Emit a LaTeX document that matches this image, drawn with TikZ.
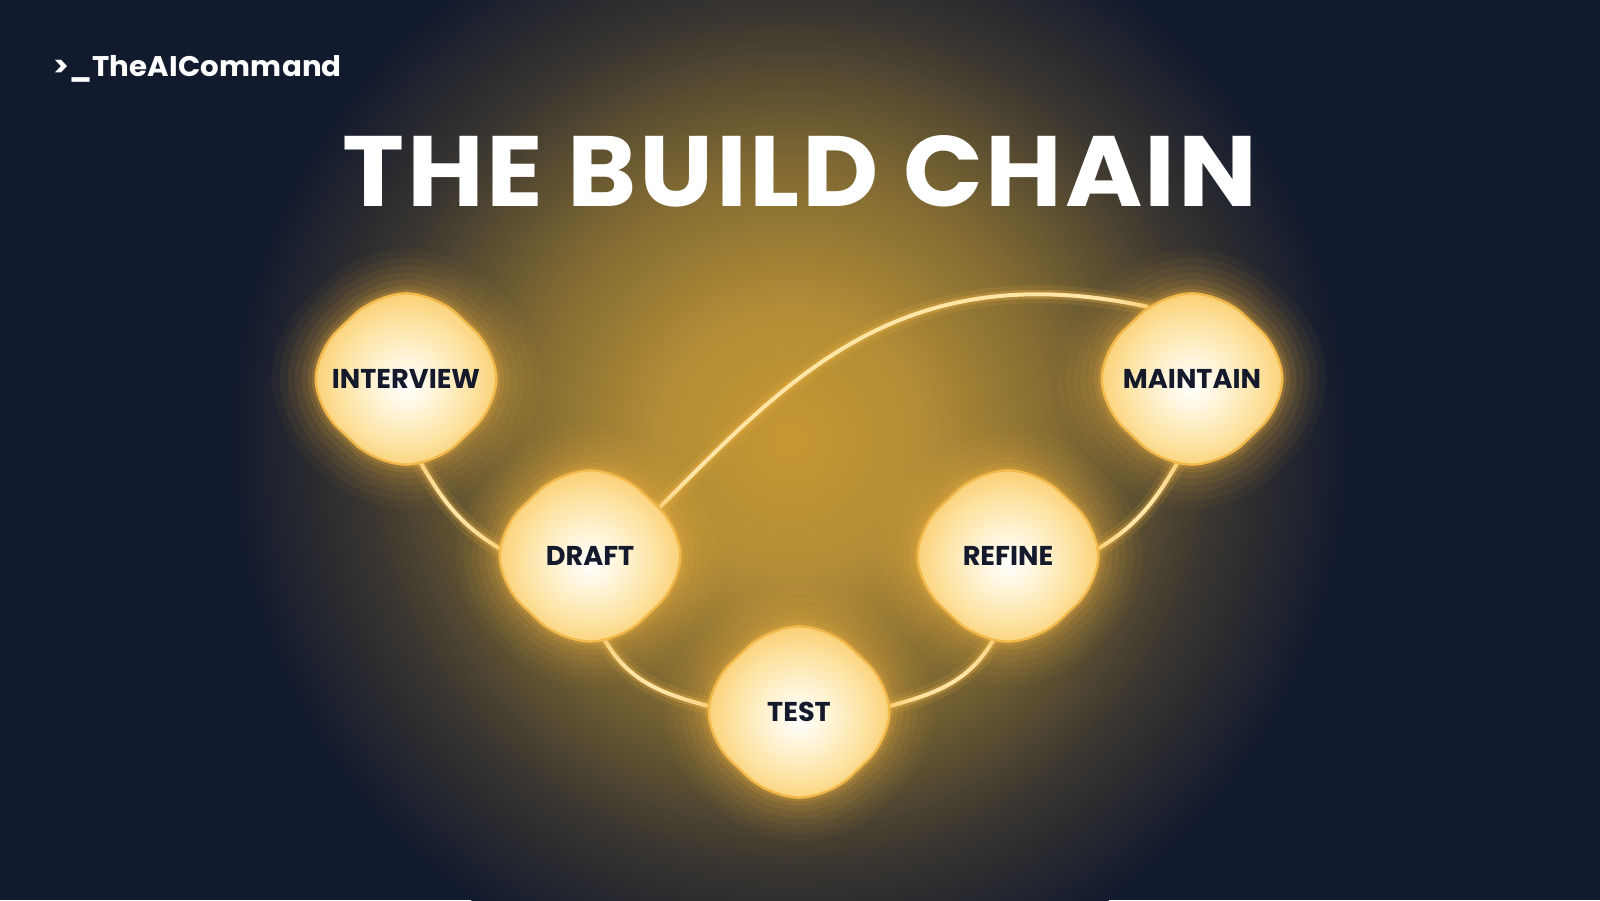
\documentclass[tikz,border=0pt]{standalone}
\usepackage{fontspec}
\newfontfamily\pop{Poppins}
\newfontfamily\poptitle{Poppins}[FakeStretch=1.05, LetterSpace=2.5]
\newfontfamily\poplogo{Poppins}[FakeStretch=1.03, LetterSpace=0.6]
\usetikzlibrary{calc}
\pgfdeclarelayer{bg}\pgfdeclarelayer{lines}\pgfdeclarelayer{shapes}
\pgfsetlayers{bg,lines,shapes,main}
\definecolor{bgc}{RGB}{18,26,46}
\definecolor{gA}{RGB}{198,152,50}
\definecolor{gB}{RGB}{178,140,54}
\definecolor{gC}{RGB}{126,104,50}
\definecolor{gD}{RGB}{58,54,48}
\definecolor{glowc}{RGB}{250,186,70}
\definecolor{rimc}{RGB}{242,184,74}
\definecolor{nA}{RGB}{255,246,222}
\definecolor{nB}{RGB}{253,228,164}
\definecolor{nC}{RGB}{251,210,122}
\definecolor{linec}{RGB}{255,230,166}
\definecolor{navyc}{RGB}{20,26,44}
\pgfdeclareradialshading{bgglow}{\pgfpoint{0bp}{0bp}}{color(0bp)=(gA); color(6bp)=(gB); color(12.5bp)=(gC); color(19bp)=(gD); color(25bp)=(bgc); color(50bp)=(bgc)}
\pgfdeclareradialshading{nodefill}{\pgfpoint{0bp}{-2bp}}{color(0bp)=(white); color(7bp)=(nA); color(18bp)=(nB); color(25bp)=(nC); color(50bp)=(nC)}
% rounded blob outline (rounded diamond / octagon), centred on (0,0), 1 unit = 1 px
\newcommand\octpath{(90.35,0) .. controls (90.35,15.30) and (80.55,37.10) .. (68.57,48.45) -- (51.14,64.96) .. controls (39.16,76.31) and (16.15,85.60) .. (0,85.60) .. controls (-16.15,85.60) and (-39.16,76.31) .. (-51.14,64.96) -- (-68.57,48.45) .. controls (-80.55,37.10) and (-90.35,15.30) .. (-90.35,0) .. controls (-90.35,-15.30) and (-80.55,-37.10) .. (-68.57,-48.45) -- (-51.14,-64.96) .. controls (-39.16,-76.31) and (-16.15,-85.60) .. (0,-85.60) .. controls (16.15,-85.60) and (39.16,-76.31) .. (51.14,-64.96) -- (68.57,-48.45) .. controls (80.55,-37.10) and (90.35,-15.30) .. (90.35,0) -- cycle}
\tikzset{blobcorner/.style={line join=round}}
\newcommand\blobat[1]{%
  \foreach \w/\o in {44/0.04,36/0.05,28/0.06,21/0.07,14/0.09,8/0.12,4/0.18}{%
    \draw[shift={(#1)}, blobcorner, line width=\w pt, draw=glowc, opacity=\o] \octpath;}
  \shade[shift={(#1)}, blobcorner, shading=nodefill] \octpath;
  \draw[shift={(#1)}, blobcorner, line width=1.2pt, draw=rimc] \octpath;
}
\tikzset{
  lbl/.style={circle, minimum size=85pt, inner sep=0pt, text=navyc, font=\pop\bfseries\fontsize{13.6}{16}\selectfont},
  conn/.style={line width=2pt, draw=linec, line cap=round},
  connglow/.style={line width=9pt, draw=glowc, opacity=0.12, line cap=round},
  connglowb/.style={line width=4.5pt, draw=glowc, opacity=0.28, line cap=round}
}
\begin{document}
\begin{tikzpicture}[x=0.5pt,y=0.5pt]
\useasboundingbox (0,0) rectangle (1600,900);
\begin{pgfonlayer}{bg}
  \fill[bgc] (0,0) rectangle (1600,900);
  \shade[shading=bgglow] (790,460) circle (560);
\end{pgfonlayer}
% labels
\node[anchor=base west, inner sep=0pt, text=white, font=\poplogo\bfseries\fontsize{14.2}{16}\selectfont] (logo) at (53,823) {>\_TheAICommand};
\node[anchor=base, inner sep=0pt, text=white, font=\poptitle\bfseries\fontsize{50}{58}\selectfont] (title) at (800,693) {THE BUILD CHAIN};
% nodes
\node[lbl] (int) at (406,521) {INTERVIEW};
\node[lbl] (dra) at (590,344) {DRAFT};
\node[lbl] (tst) at (799,188) {TEST};
\node[lbl] (ref) at (1008,344) {REFINE};
\node[lbl] (mai) at (1192,521) {MAINTAIN};
\begin{pgfonlayer}{shapes}
  \blobat{int.center}
  \blobat{dra.center}
  \blobat{tst.center}
  \blobat{ref.center}
  \blobat{mai.center}
\end{pgfonlayer}
\begin{pgfonlayer}{lines}
  \foreach \s in {connglow,connglowb,conn}{
    \draw[\s] (int.-80) to[out=-60, in=150] (dra.177);
    \draw[\s] (dra.-80) to[out=-60, in=165] (tst.177);
    \draw[\s] (tst.3) to[out=15, in=-120] (ref.-100);
    \draw[\s] (ref.3) to[out=30, in=-120] (mai.-100);
    \draw[\s] (dra.35) .. controls +(45:185) and +(168:250) .. (mai.122);
  }
\end{pgfonlayer}
\end{tikzpicture}
\end{document}
